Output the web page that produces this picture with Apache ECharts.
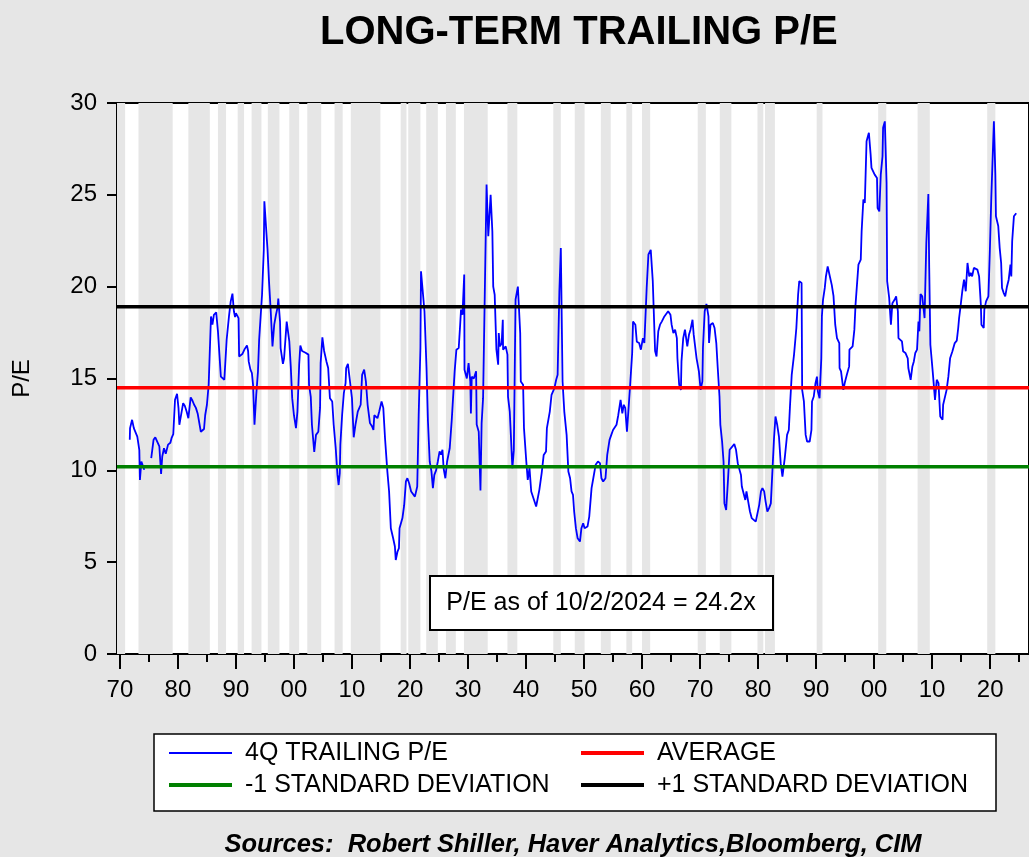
<!DOCTYPE html>
<html>
<head>
<meta charset="utf-8">
<title>Long-term trailing P/E</title>
<script src="https://cdn.jsdelivr.net/npm/echarts@6/dist/echarts.min.js"></script>
<style>
  html, body { margin: 0; padding: 0; background: #e6e6e6; }
  #main { width: 1029px; height: 857px; }
</style>
</head>
<body>
<div id="main"></div>
<script>
// 4Q trailing P/E (decimal year / value)
var peYears = [
  1871.7, 1871.75, 1872.1, 1872.4, 1873.0, 1873.35, 1873.45, 1873.7, 1874.2, 1874.8,
  1875.4, 1875.8, 1876.1, 1876.4, 1876.8, 1877.1, 1877.3, 1877.6, 1877.9, 1878.3,
  1878.7, 1878.9, 1879.2, 1879.5, 1879.85, 1880.1, 1880.25, 1880.5, 1880.9, 1881.2,
  1881.5, 1881.8, 1882.2, 1882.5, 1882.8, 1883.1, 1883.4, 1883.7, 1883.95, 1884.2,
  1884.5, 1884.7, 1885.0, 1885.3, 1885.7, 1885.95, 1886.2, 1886.6, 1886.9, 1887.2,
  1887.4, 1888.0, 1888.15, 1888.4, 1888.8, 1889.1, 1889.4, 1889.65, 1889.85, 1890.0,
  1890.45, 1890.55, 1891.1, 1891.5, 1891.9, 1892.1, 1892.2, 1892.5, 1892.75, 1892.95,
  1893.2, 1893.5, 1893.8, 1894.0, 1894.5, 1894.8, 1894.9, 1895.2, 1895.45, 1895.7,
  1896.0, 1896.3, 1896.6, 1896.9, 1897.2, 1897.3, 1897.6, 1897.7, 1898.1, 1898.3,
  1898.6, 1898.75, 1899.2, 1899.45, 1899.7, 1900.0, 1900.35, 1900.6, 1900.9, 1901.1,
  1901.4, 1902.0, 1902.5, 1902.6, 1902.9, 1903.1, 1903.5, 1903.8, 1904.2, 1904.5,
  1904.6, 1904.9, 1905.2, 1905.6, 1905.9, 1906.2, 1906.6, 1906.85, 1907.2, 1907.5,
  1907.7, 1907.9, 1908.0, 1908.3, 1908.6, 1908.9, 1909.0, 1909.3, 1909.6, 1910.0,
  1910.3, 1910.6, 1910.9, 1911.0, 1911.5, 1911.75, 1912.1, 1912.4, 1912.7, 1913.1,
  1913.45, 1913.7, 1913.85, 1914.1, 1914.4, 1914.7, 1915.1, 1915.4, 1915.7, 1916.1,
  1916.4, 1916.7, 1917.1, 1917.4, 1917.55, 1917.85, 1918.1, 1918.2, 1918.7, 1919.0,
  1919.3, 1919.55, 1919.85, 1920.2, 1920.85, 1921.25, 1921.5, 1921.8, 1921.9, 1922.2,
  1922.5, 1922.85, 1923.1, 1923.4, 1923.7, 1923.95, 1924.2, 1924.5, 1924.8, 1925.1,
  1925.35, 1925.6, 1925.8, 1926.1, 1926.4, 1926.7, 1926.85, 1927.2, 1927.7, 1928.0,
  1928.4, 1928.65, 1928.8, 1929.05, 1929.35, 1929.4, 1929.8, 1930.1, 1930.4, 1930.5,
  1930.65, 1931.0, 1931.4, 1931.5, 1931.85, 1932.15, 1932.35, 1932.6, 1932.9, 1933.2,
  1933.5, 1933.9, 1934.2, 1934.35, 1934.6, 1934.9, 1935.2, 1935.3, 1935.5, 1935.8,
  1936.0, 1936.05, 1936.5, 1936.8, 1936.9, 1937.2, 1937.65, 1937.9, 1938.2, 1938.6,
  1939.0, 1939.1, 1939.5, 1939.65, 1940.05, 1940.3, 1940.6, 1940.9, 1941.2, 1941.75,
  1942.0, 1942.3, 1942.7, 1943.05, 1943.45, 1943.6, 1944.1, 1944.4, 1944.9, 1945.2,
  1945.45, 1945.75, 1946.0, 1946.3, 1946.6, 1947.0, 1947.3, 1947.6, 1947.85, 1948.1,
  1948.3, 1948.6, 1948.9, 1949.3, 1949.55, 1949.85, 1950.1, 1950.6, 1950.9, 1951.3,
  1951.6, 1952.0, 1952.4, 1952.75, 1953.0, 1953.3, 1953.7, 1954.0, 1954.4, 1954.7,
  1955.0, 1955.25, 1955.6, 1955.9, 1956.3, 1956.6, 1956.85, 1957.1, 1957.4, 1957.7,
  1957.95, 1958.3, 1958.45, 1958.85, 1959.1, 1959.5, 1959.8, 1960.15, 1960.4, 1960.8,
  1961.1, 1961.5, 1961.85, 1962.25, 1962.5, 1962.8, 1963.1, 1963.4, 1963.85, 1964.5,
  1964.9, 1965.1, 1965.4, 1965.7, 1966.0, 1966.1, 1966.4, 1966.7, 1966.8, 1967.1,
  1967.4, 1967.65, 1967.8, 1968.1, 1968.35, 1968.7, 1968.9, 1969.4, 1969.6, 1969.8,
  1970.1, 1970.4, 1970.5, 1970.8, 1971.1, 1971.45, 1971.55, 1971.8, 1972.2, 1972.5,
  1972.8, 1973.05, 1973.35, 1973.5, 1973.8, 1974.05, 1974.2, 1974.5, 1974.8, 1975.1,
  1975.35, 1975.9, 1976.2, 1976.5, 1976.8, 1977.05, 1977.2, 1977.5, 1977.8, 1978.0,
  1978.3, 1978.6, 1978.9, 1979.2, 1979.6, 1979.9, 1980.2, 1980.5, 1980.75, 1981.05,
  1981.3, 1981.6, 1981.9, 1982.2, 1982.45, 1982.75, 1983.0, 1983.3, 1983.6, 1983.9,
  1984.2, 1984.45, 1984.6, 1985.0, 1985.3, 1985.5, 1985.8, 1986.2, 1986.4, 1986.6,
  1986.9, 1987.1, 1987.5, 1987.6, 1987.9, 1988.2, 1988.45, 1988.9, 1989.2, 1989.3,
  1989.6, 1989.9, 1990.15, 1990.3, 1990.6, 1990.9, 1991.0, 1991.2, 1991.5, 1991.7,
  1992.0, 1992.3, 1992.7, 1993.0, 1993.3, 1993.6, 1994.0, 1994.05, 1994.3, 1994.7,
  1995.0, 1995.3, 1995.7, 1995.75, 1996.3, 1996.6, 1996.8, 1997.3, 1997.7, 1997.85,
  1998.15, 1998.4, 1998.7, 1999.1, 1999.4, 1999.55, 1999.8, 2000.1, 2000.5, 2000.6,
  2000.9, 2001.15, 2001.45, 2001.55, 2001.85, 2002.15, 2002.25, 2002.6, 2002.9, 2003.15,
  2003.55, 2003.8, 2004.1, 2004.2, 2004.8, 2005.0, 2005.4, 2005.8, 2005.9, 2006.3,
  2006.6, 2006.85, 2007.1, 2007.4, 2007.65, 2007.8, 2008.0, 2008.3, 2008.7, 2009.0,
  2009.35, 2009.5, 2009.7, 2010.1, 2010.5, 2010.8, 2011.1, 2011.4, 2011.8, 2011.9,
  2012.2, 2012.5, 2012.8, 2013.1, 2013.5, 2013.9, 2014.25, 2014.5, 2014.65, 2014.9,
  2015.2, 2015.5, 2015.8, 2016.1, 2016.4, 2016.65, 2016.9, 2017.2, 2017.5, 2017.8,
  2018.1, 2018.4, 2018.5, 2018.9, 2019.0, 2019.3, 2019.7, 2019.95, 2020.2, 2020.5,
  2020.65, 2020.9, 2021.0, 2021.4, 2021.65, 2021.9, 2022.05, 2022.35, 2022.6, 2022.9,
  2023.2, 2023.5, 2023.65, 2023.8, 2024.1, 2024.5
];
var peValues = [
  11.66, 12.3, 12.75, 12.3, 11.84, 11.1, 9.48, 10.48, 10.03, null,
  10.66, 11.66, 11.8, 11.7, 11.3, 9.8, 10.75, 11.2, 10.9, 11.4,
  11.5, 11.75, 11.97, 13.84, 14.17, 13.39, 12.48, 12.57, 13.66, 13.5,
  13.2, 12.84, 13.97, 13.8, 13.57, 13.4, 13.1, 13.0, 12.1, 12.15,
  12.25, 13.0, 13.57, 14.66, 18.38, 17.93, 18.47, 18.6, 17.57, 17.5,
  15.1, 14.93, 14.85, 17.11, 18.38, 19.2, 19.62, 18.66, 18.35, 18.56,
  18.29, 16.2, 16.33, 16.6, 16.8, 16.5, 15.93, 15.48, 15.3, 14.66,
  12.48, 14.11, 15.39, 17.11, 19.56, 22.0, 24.65, 24.74, 22.0, 20.3,
  18.66, 16.75, 17.93, 18.47, 18.9, 19.35, 18.1, 16.66, 15.8, 16.1,
  16.1, 18.1, 17.02, 15.66, 13.93, 13.0, 12.3, 13.2, 15.75, 16.8,
  16.5, 16.4, 16.3, 14.66, 14.0, 12.48, 11.0, 11.93, 12.1, 13.4,
  15.84, 17.24, 16.5, 15.93, 15.57, 13.93, 13.75, 12.48, 11.2, 9.75,
  9.2, 9.85, 11.4, 13.0, 14.2, 14.75, 15.57, 15.8, 15.0, 13.93,
  11.8, 12.48, 12.57, 13.2, 13.57, 15.2, 15.48, 14.84, 13.57, 12.57,
  12.4, 12.2, 13.0, 13.0, 12.84, 13.2, 13.75, 13.4, 11.75, 9.94,
  8.85, 6.85, 6.3, 5.85, 5.12, 5.58, 5.76, 6.85, 7.4, 8.1,
  9.4, 9.57, 9.3, 8.85, 8.57, 9.12, 13.0, 16.66, 20.84, 20.75,
  18.66, 15.57, 12.66, 10.48, 9.94, 9.03, 9.75, 10.0, 10.48, 11.03,
  10.85, 11.12, 10.1, 9.57, 10.48, 10.57, 11.2, 12.75, 15.39, 16.57,
  16.66, 17.93, 18.75, 18.47, 20.66, 15.48, 15.0, 15.84, 14.84, 13.1,
  15.1, 15.0, 15.4, 12.5, 12.1, 8.9, 12.57, 13.93, 14.0, 25.56,
  22.75, 25.0, 23.0, 20.0, 19.56, 16.57, 15.75, 17.47, 16.75, 16.9,
  18.2, 16.57, 16.75, 16.3, 14.0, 13.2, 10.12, 11.1, 19.3, 20.0,
  17.47, 14.84, 14.66, 12.3, 10.48, 9.48, 10.12, 8.85, 8.75, 8.03,
  8.12, 8.94, 9.85, 10.84, 11.03, 12.3, 13.2, 14.11, 14.48, 14.93,
  15.2, 19.75, 22.1, 14.84, 13.2, 11.93, 9.94, 9.57, 8.85, 8.66,
  7.76, 6.85, 6.3, 6.12, 6.85, 7.12, 6.85, 6.94, 7.48, 9.03,
  9.57, 10.3, 10.48, 10.39, 9.57, 9.39, 9.57, 10.84, 11.66, 11.93,
  12.2, 12.3, 12.48, 13.0, 13.84, 13.1, 13.57, 13.4, 12.1, 13.48,
  14.66, 16.39, 18.1, 17.93, 17.0, 16.93, 16.57, 17.2, 16.93, 19.93,
  21.75, 22.0, 20.3, 16.5, 16.2, 17.57, 17.93, 18.1, 18.38, 18.66,
  18.47, 17.93, 17.47, 17.66, 17.2, 16.1, 14.66, 14.38, 15.93, 17.2,
  17.66, 17.75, 16.75, 17.4, 17.66, 18.2, 17.4, 16.1, 16.15, 15.39,
  14.38, 14.84, 16.66, 18.66, 19.06, 18.38, 16.93, 17.93, 18.02, 17.75,
  16.93, 15.57, 14.02, 12.48, 11.57, 10.48, 8.2, 7.84, 9.39, 11.12,
  11.2, 11.43, 11.12, 10.39, 10.3, 9.75, 9.12, 8.75, 8.39, 8.85,
  8.3, 7.76, 7.4, 7.3, 7.21, 7.3, 8.12, 8.85, 9.03, 8.85,
  8.3, 7.76, 7.94, 8.2, 8.3, 11.75, 12.93, 12.48, 11.84, 10.39,
  9.66, 9.66, 10.66, 11.93, 12.2, 13.48, 15.2, 16.3, 16.3, 17.75,
  19.56, 20.3, 20.2, 14.38, 13.75, 11.93, 11.57, 11.57, 12.2, 13.75,
  14.02, 14.75, 15.1, 14.3, 13.93, 16.1, 18.38, 19.3, 19.93, 20.56,
  21.1, 20.66, 20.1, 19.5, 17.93, 17.2, 16.93, 15.57, 15.39, 14.38,
  14.84, 15.2, 15.66, 16.57, 16.75, 17.66, 19.02, 21.2, 21.47, 23.0,
  24.75, 24.56, 27.92, 28.38, 27.2, 26.47, 26.4, 26.1, 25.92, 24.28,
  24.1, 26.1, 27.1, 28.65, 29.0, 25.65, 20.3, 19.39, 17.93, 19.1,
  19.3, 19.47, 18.66, 17.2, 17.02, 16.48, 16.39, 16.1, 15.57, 14.93,
  15.66, 15.93, 16.39, 16.57, 18.1, 17.57, 19.6, 19.47, 18.29, 22.38,
  25.05, 21.02, 16.84, 15.39, 13.84, 14.93, 14.75, 12.93, 12.75, 13.57,
  13.66, 14.38, 15.1, 16.1, 16.48, 16.93, 17.06, 17.75, 18.29, 18.93,
  19.75, 20.38, 19.75, 21.29, 20.56, 20.75, 20.56, 21.02, 21.1, 20.93,
  20.56, 19.02, 17.93, 17.75, 18.75, 19.2, 19.47, 21.93, 24.83, 27.65,
  29.0, 26.1, 23.83, 23.3, 22.1, 21.29, 19.93, 19.65, 19.47, 20.0,
  20.38, 21.2, 20.56, 22.47, 23.83, 24.0
];
var average = 14.5;
var sdLow = 10.2;
var sdHigh = 18.9;

// shaded recession periods
var recStart = [1869.5, 1873.2, 1881.8, 1886.9, 1890.3, 1892.7, 1895.5, 1899.2, 1902.3, 1907.0,
  1909.8, 1918.4, 1919.7, 1922.8, 1926.2, 1929.3, 1936.8, 1944.7, 1948.4, 1952.9,
  1957.3, 1960.0, 1969.6, 1973.4, 1979.9, 1981.2, 1990.1, 2000.7, 2007.5, 2019.5];
var recEnd = [1870.9, 1879.1, 1885.5, 1888.3, 1891.4, 1894.4, 1897.5, 1900.9, 1904.7, 1908.4,
  1914.9, 1919.4, 1921.8, 1924.8, 1927.9, 1933.4, 1938.5, 1946.0, 1950.1, 1954.6,
  1958.3, 1961.4, 1971.0, 1975.4, 1980.9, 1982.9, 1991.1, 2002.1, 2009.6, 2020.9];

var majorTicks = [1870, 1880, 1890, 1900, 1910, 1920, 1930, 1940, 1950, 1960,
  1970, 1980, 1990, 2000, 2010, 2020];
var minorTicks = [1875, 1885, 1895, 1905, 1915, 1925, 1935, 1945, 1955, 1965,
  1975, 1985, 1995, 2005, 2015, 2025];

var xMin = 1869.5;
var xMax = 2026.7;
var font = '"Liberation Sans", Arial, sans-serif';

var peData = peYears.map(function (yr, i) {
  return [yr, peValues[i] === null ? '-' : peValues[i]];
});
function flat(v) {
  return [[xMin, v], [xMax, v]];
}
var bands = recStart.map(function (s, i) {
  return [{ xAxis: s }, { xAxis: recEnd[i] }];
});

var legendText = { fontSize: 25, color: '#000', lineHeight: 28, padding: [0, 0, 0, 8], fontFamily: font };

var chart = echarts.init(document.getElementById('main'));
chart.setOption({
  backgroundColor: '#e6e6e6',
  animation: false,
  textStyle: { fontFamily: font },
  title: {
    text: 'LONG-TERM TRAILING P/E',
    left: 315,
    top: 8,
    textStyle: { fontSize: 40, fontWeight: 'bold', color: '#000', fontFamily: font }
  },
  grid: {
    left: 117, top: 103, width: 920, height: 551,
    show: true, backgroundColor: '#fff', borderColor: '#000', borderWidth: 2
  },
  xAxis: [
    {
      type: 'value', min: xMin, max: xMax, position: 'bottom',
      axisLine: { lineStyle: { color: '#000', width: 2 } },
      axisTick: { customValues: majorTicks, length: 15, lineStyle: { color: '#000', width: 2 } },
      axisLabel: {
        customValues: majorTicks,
        formatter: function (v) { return String(Math.round(v) % 100).padStart(2, '0'); },
        fontSize: 24, color: '#000', margin: 24, fontFamily: font
      },
      splitLine: { show: false }
    },
    {
      type: 'value', min: xMin, max: xMax, position: 'bottom',
      axisLine: { show: false },
      axisTick: { customValues: minorTicks, length: 8, lineStyle: { color: '#000', width: 2 } },
      axisLabel: { show: false },
      splitLine: { show: false }
    }
  ],
  yAxis: {
    type: 'value', min: 0, max: 30, interval: 5,
    name: 'P/E', nameLocation: 'middle', nameGap: 83,
    nameTextStyle: { fontSize: 24, color: '#000', fontFamily: font },
    axisLine: { show: true, lineStyle: { color: '#000', width: 2 } },
    axisTick: { show: true, length: 10, lineStyle: { color: '#000', width: 2 } },
    axisLabel: { fontSize: 24, color: '#000', margin: 20, fontFamily: font },
    splitLine: { show: false }
  },
  legend: [
    {
      data: [
        { name: '4Q TRAILING P/E', lineStyle: { width: 1.8 } },
        { name: '-1 STANDARD DEVIATION', lineStyle: { width: 4 } }
      ],
      orient: 'vertical', left: 167, top: 739, padding: 0,
      itemWidth: 63, itemHeight: 14, itemGap: 4,
      itemStyle: { opacity: 0 },
      textStyle: legendText
    },
    {
      data: [
        { name: 'AVERAGE', lineStyle: { width: 4 } },
        { name: '+1 STANDARD DEVIATION', lineStyle: { width: 4 } }
      ],
      orient: 'vertical', left: 579, top: 739, padding: 0,
      itemWidth: 63, itemHeight: 14, itemGap: 4,
      itemStyle: { opacity: 0 },
      textStyle: legendText
    }
  ],
  graphic: [
    {
      type: 'rect', z: 0,
      shape: { x: 154, y: 734, width: 842, height: 77 },
      style: { fill: '#fff', stroke: '#000', lineWidth: 1.5 }
    },
    {
      type: 'rect', z: 100,
      shape: { x: 430, y: 576, width: 343, height: 54 },
      style: { fill: '#fff', stroke: '#000', lineWidth: 2 }
    },
    {
      type: 'text', z: 101, x: 601, y: 603,
      style: {
        text: 'P/E as of 10/2/2024 = 24.2x', fill: '#000',
        font: '25px ' + font, textAlign: 'center', textVerticalAlign: 'middle'
      }
    },
    {
      type: 'text', x: 573, y: 845,
      style: {
        text: 'Sources:  Robert Shiller, Haver Analytics,Bloomberg, CIM', fill: '#000',
        font: 'italic bold 25.5px ' + font, textAlign: 'center', textVerticalAlign: 'middle'
      }
    }
  ],
  series: [
    {
      name: 'recessions', type: 'line', data: peData, symbol: 'none', silent: true, z: 1,
      lineStyle: { opacity: 0 },
      markArea: { silent: true, itemStyle: { color: '#e6e6e6' }, data: bands }
    },
    {
      name: '4Q TRAILING P/E', type: 'line', data: peData, symbol: 'none', z: 3,
      color: '#0000ff', lineStyle: { color: '#0000ff', width: 1.8 }
    },
    {
      name: 'AVERAGE', type: 'line', data: flat(average), symbol: 'none', z: 4,
      color: '#ff0000', lineStyle: { color: '#ff0000', width: 3.5 }
    },
    {
      name: '-1 STANDARD DEVIATION', type: 'line', data: flat(sdLow), symbol: 'none', z: 4,
      color: '#008000', lineStyle: { color: '#008000', width: 3.5 }
    },
    {
      name: '+1 STANDARD DEVIATION', type: 'line', data: flat(sdHigh), symbol: 'none', z: 4,
      color: '#000000', lineStyle: { color: '#000000', width: 3.5 }
    }
  ]
});
</script>
</body>
</html>
